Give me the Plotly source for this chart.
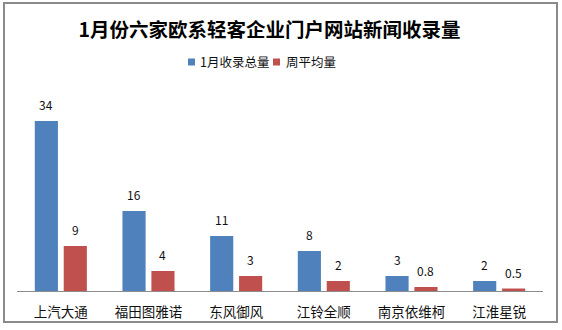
import plotly.graph_objects as go

categories = ["上汽大通", "福田图雅诺", "东风御风", "江铃全顺", "南京依维柯", "江淮星锐"]
total_jan = [34, 16, 11, 8, 3, 2]
weekly_avg = [9, 4, 3, 2, 0.8, 0.5]
total_labels = ["34", "16", "11", "8", "3", "2"]
weekly_labels = ["9", "4", "3", "2", "0.8", "0.5"]
series_names = ["1月收录总量", "周平均量"]
series_colors = ["#4F81BD", "#C0504D"]

W, H = 562, 330
L, R, T, B = 17, 19, 100, 39
pw = W - L - R
ph = H - T - B
BARGAP = 0.34

def px_x(p):
    return (p - L) / pw

def px_y(p):
    return (H - B - p) / ph

font_family = "Noto Sans CJK SC, Noto Sans, sans-serif"

fig = go.Figure()
for vals, name, color in zip([total_jan, weekly_avg], series_names, series_colors):
    fig.add_trace(go.Bar(
        x=categories, y=vals, name=name,
        marker=dict(color=color, line=dict(width=0)),
        showlegend=False,
    ))

# data labels
slot = (1 - BARGAP) / 2
for k, (vals, labels) in enumerate([(total_jan, total_labels), (weekly_avg, weekly_labels)]):
    off = (k - 0.5) * slot
    for i, (v, t) in enumerate(zip(vals, labels)):
        fig.add_annotation(
            x=i + off, y=v, xref="x", yref="y", text=t, showarrow=False,
            yanchor="bottom", yshift=6,
            font=dict(size=12, color="#111111", family=font_family),
        )

# custom legend
legend_items = [(188, 198), (273, 284)]
for (sx, tx), name, color in zip(legend_items, series_names, series_colors):
    fig.add_shape(
        type="rect", xref="paper", yref="paper",
        x0=px_x(sx), x1=px_x(sx + 7), y0=px_y(65.5), y1=px_y(58.5),
        line=dict(width=0), fillcolor=color,
    )
    fig.add_annotation(
        x=px_x(tx), y=px_y(62), xref="paper", yref="paper", text=name,
        showarrow=False, xanchor="left", yanchor="middle",
        font=dict(size=12.5, color="#111111", family=font_family),
    )

fig.update_layout(
    width=W, height=H,
    margin=dict(l=L, r=R, t=T, b=B, pad=0),
    paper_bgcolor="white", plot_bgcolor="white",
    barmode="group", bargap=BARGAP, bargroupgap=0.2,
    font=dict(family=font_family, size=13, color="#111111"),
    title=dict(
        text="<b>1月份六家欧系轻客企业门户网站新闻收录量</b>",
        x=269.5 / W, xanchor="center", xref="container",
        y=1 - 30 / H, yanchor="middle", yref="container",
        font=dict(size=19.5, color="#000000", family=font_family),
    ),
    xaxis=dict(
        showline=True, linecolor="#8c8c8c", linewidth=1,
        showgrid=False, ticks="", tickfont=dict(size=13.5, color="#111111"),
        zeroline=False, ticklabelstandoff=9, automargin=False,
    ),
    yaxis=dict(
        range=[0, ph / 5.0], visible=False, showgrid=False, zeroline=False,
        automargin=False,
    ),
    showlegend=False,
)

fig.add_shape(
    type="rect", xref="paper", yref="paper",
    x0=px_x(4), x1=px_x(557), y0=px_y(322), y1=px_y(3),
    line=dict(color="#8a8a8a", width=2), fillcolor="rgba(0,0,0,0)",
    layer="above",
)

fig.write_html("out.html")
